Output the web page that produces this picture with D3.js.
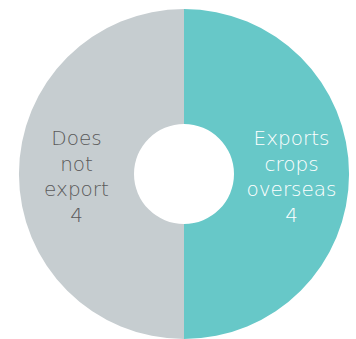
<!DOCTYPE html>
<html>
<head>
<meta charset="utf-8">
<script src="https://cdn.jsdelivr.net/npm/d3@7"></script>
<style>
  html, body { margin: 0; padding: 0; background: #fff; }
  svg text { font-family: "DejaVu Sans", "Lato", sans-serif; font-weight: 200; }
</style>
</head>
<body>
<div id="chart"></div>
<script>
const categories = ["Exports crops overseas", "Does not export"];
const values = [4, 4];
const colors = ["#67c8c8", "#c6cdd0"];
const labelColors = ["#ffffff", "#5a5a5a"];

const width = 356;
const height = 339;
const cx = 184, cy = 174;
const outerR = 165, innerR = 50;

const svg = d3.select("#chart")
    .append("svg")
    .attr("width", width)
    .attr("height", height);

const data = categories.map((c, i) => ({ name: c, value: values[i], i }));

const pie = d3.pie().value(d => d.value).sort(null);
const arc = d3.arc().innerRadius(innerR).outerRadius(outerR);

const g = svg.append("g").attr("transform", `translate(${cx},${cy})`);

const slices = g.selectAll("g.slice")
    .data(pie(data))
    .enter()
    .append("g")
    .attr("class", "slice");

slices.append("path")
    .attr("d", arc)
    .attr("fill", d => colors[d.data.i]);

// label: words stacked, value on the last line
const lineH = 25.7;
slices.append("text")
    .attr("text-anchor", "middle")
    .attr("font-size", 20)
    .attr("fill", d => labelColors[d.data.i])
    .attr("transform", d => `translate(${arc.centroid(d)})`)
    .each(function(d) {
        const lines = d.data.name.split(" ").concat([String(d.data.value)]);
        const t = d3.select(this);
        const y0 = -((lines.length - 1) * lineH) / 2 + 9.5;
        lines.forEach((l, k) => {
            t.append("tspan").attr("x", 0).attr("y", y0 + k * lineH).text(l);
        });
    });
</script>
</body>
</html>
